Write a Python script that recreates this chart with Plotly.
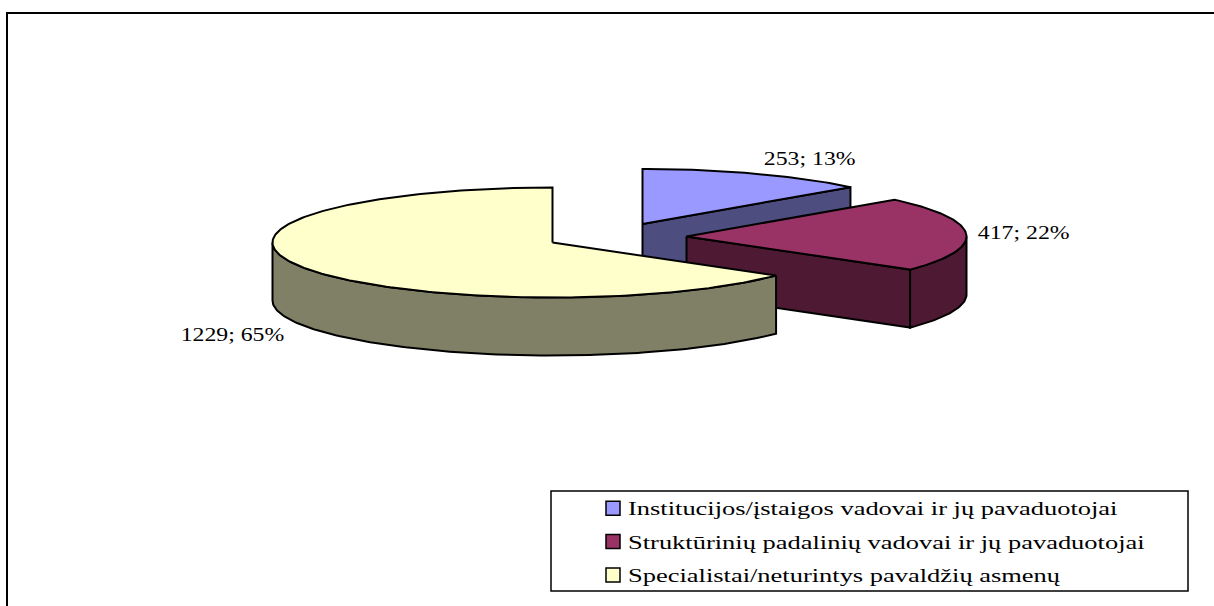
import math
import plotly.graph_objects as go

categories = ["Institucijos/įstaigos vadovai ir jų pavaduotojai",
              "Struktūrinių padalinių vadovai ir jų pavaduotojai",
              "Specialistai/neturintys pavaldžių asmenų"]
values = [253, 417, 1229]
top_colors = ["#9999FF", "#993366", "#FFFFCC"]
side_colors = ["#4D4D80", "#4D1933", "#808066"]

W, H = 1214, 606
A, B, DEPTH = 280, 55, 58
CENTERS = [(642.5, 224), (686.5, 236.5), (552.5, 242.5)]
LABELS = [(810, 158), (1023.5, 232), (232, 334)]
LINE = dict(color="black", width=2)
STRETCH_LABEL, STRETCH_LEGEND = 1.25, 1.47

fig = go.Figure()
total = sum(values)


def pt(c, deg, dz=0):
    t = math.radians(deg)
    return c[0] + A * math.sin(t), c[1] - B * math.cos(t) + dz


def poly(points, color):
    xs = [p[0] for p in points] + [points[0][0]]
    ys = [p[1] for p in points] + [points[0][1]]
    fig.add_trace(go.Scatter(x=xs, y=ys, mode="lines", fill="toself", fillcolor=color,
                             line=LINE, showlegend=False, hoverinfo="skip"))


def arc(c, a0, a1, dz=0):
    n = max(2, int(abs(a1 - a0)) + 1)
    return [pt(c, a0 + (a1 - a0) * i / (n - 1), dz) for i in range(n)]


angle = 0.0
for v, c, top, side in zip(values, CENTERS, top_colors, side_colors):
    a0, a1 = angle, angle + 360 * v / total
    angle = a1
    if a1 < 359:
        end = pt(c, a1)
        poly([c, end, pt(c, a1, DEPTH), (c[0], c[1] + DEPTH)], side)
    r0, r1 = max(a0, 90), min(a1, 270)
    if r1 > r0:
        poly(arc(c, r0, r1) + arc(c, r1, r0, DEPTH), side)
    poly([c] + arc(c, a0, a1), top)

for i, (name, color) in enumerate(zip(categories, top_colors)):
    fig.add_trace(go.Scatter(x=[None], y=[None], mode="markers", name=name, legendgroup=str(i),
                             marker=dict(symbol="square", size=14, color=color,
                                         line=dict(color="black", width=1.5))))

annotations = []
for v, (x, y) in zip(values, LABELS):
    annotations.append(dict(x=x, y=y, xref="x", yref="y", showarrow=False,
                            text=f"{v}; {round(100 * v / total)}%",
                            font=dict(family="Liberation Serif", size=19, color="black")))

fig.update_layout(
    width=W, height=H, margin=dict(l=0, r=0, t=0, b=0),
    paper_bgcolor="white", plot_bgcolor="white",
    xaxis=dict(range=[0, W], visible=False, fixedrange=True),
    yaxis=dict(range=[H, 0], visible=False, fixedrange=True),
    annotations=annotations,
    showlegend=True,
    legend=dict(x=593 / W, y=1 - 490 / H, xanchor="left", yanchor="top",
                bgcolor="rgba(0,0,0,0)", borderwidth=0, tracegroupgap=7,
                itemclick=False, itemdoubleclick=False,
                font=dict(family="Liberation Serif", size=18, color="black")),
    shapes=[
        dict(type="rect", xref="x", yref="y", x0=7, y0=13, x1=1240, y1=640,
             line=dict(color="black", width=2), fillcolor="rgba(0,0,0,0)", layer="below"),
        dict(type="rect", xref="x", yref="y", x0=551, y0=491, x1=1188, y1=591,
             line=dict(color="black", width=1.5), fillcolor="white", layer="above"),
    ],
)

post = f"""
document.body.style.margin='0';
document.querySelectorAll('.legend .scrollbox').forEach(function(s){{s.removeAttribute('clip-path');}});
function stretch(sel,k,dx){{document.querySelectorAll(sel).forEach(function(t){{
  var w=t.getComputedTextLength();
  t.setAttribute('textLength',w*k);t.setAttribute('lengthAdjust','spacingAndGlyphs');
  if(dx)t.setAttribute('x',parseFloat(t.getAttribute('x'))+dx);
}});}}
stretch('.legendtext',{STRETCH_LEGEND},-5);
stretch('.annotation-text',{STRETCH_LABEL},0);
"""
fig.write_html("out.html", post_script=post, config=dict(displayModeBar=False))
